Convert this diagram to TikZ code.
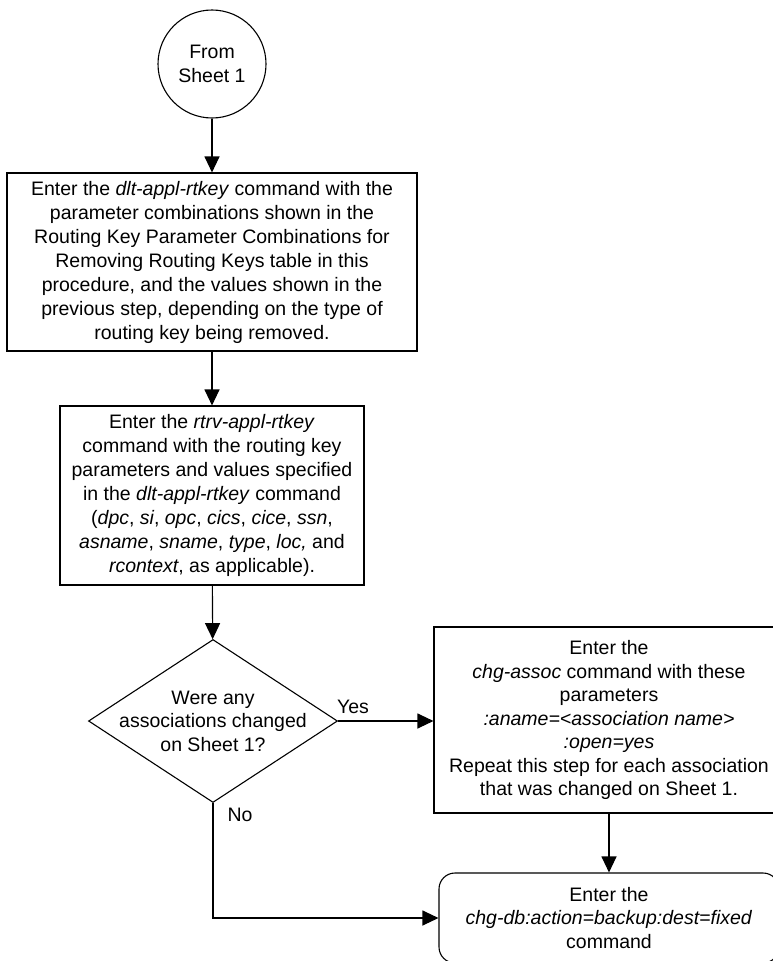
\documentclass[tikz,border=0pt]{standalone}
\usepackage{fontspec}
\setmainfont{Liberation Sans}
\usetikzlibrary{arrows.meta,shapes.geometric}
\begin{document}
\begin{tikzpicture}[x=1pt,y=-1pt,
  txt/.style={font=\fontsize{19.5}{24}\selectfont, align=center, inner sep=0pt},
  txtb/.style={font=\fontsize{19.5}{23.5}\selectfont, align=center, inner sep=0pt},
  procbox/.style={draw, line width=1.1pt, inner sep=0pt},
  flow/.style={-{Triangle[length=16pt,width=15pt]}, line width=1.1pt},
  lbl/.style={font=\fontsize{19.5}{23.5}\selectfont, inner sep=0pt}]
\useasboundingbox (0,0) rectangle (773,961);
\clip (0,0) rectangle (773,961);
% start connector circle
\node[circle, draw, line width=1.1pt, minimum size=108pt, inner sep=0pt, txt] (c) at (212,64) {From\\Sheet 1};
% box 1
\node[procbox, txt, minimum width=410pt, minimum height=178pt] (b1) at (212,262)
 {Enter the \textit{dlt-appl-rtkey} command with the\\
  parameter combinations shown in the\\
  Routing Key Parameter Combinations for\\
  Removing Routing Keys table in this\\
  procedure, and the values shown in the\\
  previous step, depending on the type of\\
  routing key being removed.};
% box 2
\node[procbox, txt, minimum width=304pt, minimum height=179pt] (b2) at (212,495.5)
 {Enter the \textit{rtrv-appl-rtkey}\\
  command with the routing key\\
  parameters and values specified\\
  in the \textit{dlt-appl-rtkey} command\\
  (\textit{dpc}, \textit{si}, \textit{opc}, \textit{cics}, \textit{cice}, \textit{ssn},\\
  \textit{asname}, \textit{sname}, \textit{type}, \textit{loc,} and\\
  \textit{rcontext}, as applicable).};
% decision
\node[diamond, draw, line width=1.1pt, minimum width=249pt, minimum height=163pt, inner sep=0pt] (d) at (213,721) {};
\node[txtb] (dt) at (d.center) {Were any\\associations changed\\on Sheet 1?};
% box 3
\node[procbox, txtb, minimum width=350pt, minimum height=186pt] (b3) at (609,720)
 {Enter the\\
  \textit{chg-assoc} command with these\\
  parameters\\
  \textit{:aname=<association name>}\\
  \textit{:open=yes}\\
  Repeat this step for each association\\
  that was changed on Sheet 1.};
% box 4
\node[procbox, txtb, rounded corners=16pt, minimum width=340pt, minimum height=90pt] (b4) at (609,918)
 {Enter the\\
  \textit{chg-db:action=backup:dest=fixed}\\
  command};
% connectors
\draw[flow] (c) -- (b1);
\draw[flow] (b1) -- (b2);
\draw[flow] (b2) -- (d);
\draw[flow] (d.east) -- (b3.west |- d.east);
\draw[flow] (b3) -- (b4);
\draw[flow] (d.south) |- (b4.west);
% labels
\node[lbl] (yes) at (353,707) {Yes};
\node[lbl] (no) at (240,815) {No};
\end{tikzpicture}
\end{document}
